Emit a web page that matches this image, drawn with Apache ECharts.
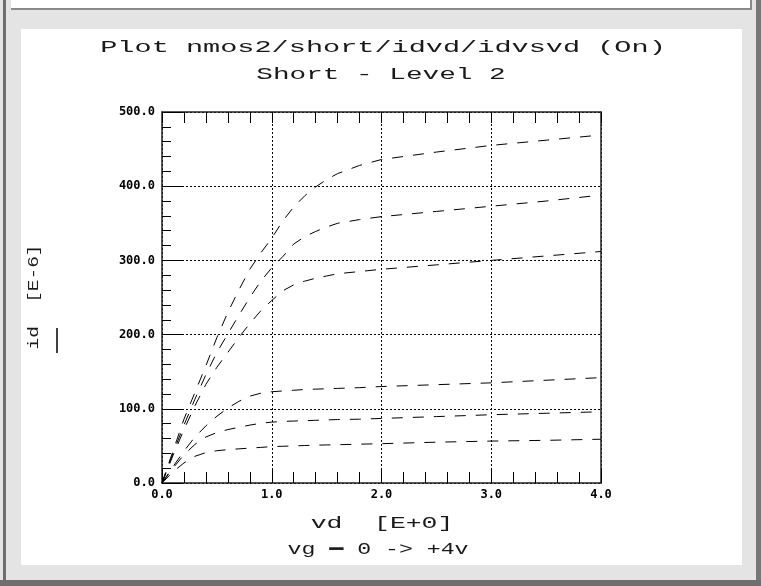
<!DOCTYPE html>
<html>
<head>
<meta charset="utf-8">
<title>nmos2 idvd</title>
<script src="https://cdn.jsdelivr.net/npm/echarts@6/dist/echarts.min.js"></script>
<style>
  html, body { margin: 0; padding: 0; background: #e4e4e4; }
  #chart { width: 761px; height: 586px; }
</style>
</head>
<body>
<div id="chart"></div>
<script>
// drain voltage points (V)
const vd = [0, 0.1, 0.2, 0.3, 0.4, 0.5, 0.6, 0.7, 0.8, 0.9, 1.0, 1.1, 1.2, 1.3, 1.4, 1.5, 1.6, 1.8, 2.0, 2.5, 3.0, 3.5, 4.0]

// drain current, [E-6] A, one array per gate step
const id1 = [0, 43, 86, 122, 158, 196, 230, 260, 288, 310, 330, 353, 372, 387, 399, 409, 417, 428, 436, 446, 455, 462, 469]
const id2 = [0, 40, 78, 113, 146, 176, 201, 226, 250, 272, 290, 305, 322, 332, 339, 345, 350, 355, 359, 366, 373, 380, 388]
const id3 = [0, 37, 72, 104, 133, 156, 176, 196, 215, 232, 246, 259, 267, 272, 276, 279, 282, 285, 288, 294, 300, 306, 312]
const id4 = [0, 22, 43, 62, 77, 90, 101, 110, 117, 121, 123, 124, 125, 126, 126.5, 127, 127.5, 128.5, 130, 132.5, 135, 138.5, 142]
const id5 = [0, 20, 38, 52, 62, 68, 72, 75, 78, 80.5, 82, 83, 83.5, 84, 84.5, 85, 85.5, 86, 87, 89.5, 92, 94, 96]
const id6 = [0, 15, 27, 36, 41, 43.5, 45, 46, 47, 48, 49, 49.5, 50, 50.5, 51, 51.3, 51.6, 52.3, 53, 55, 56.5, 57.5, 59]
const curves = [id1, id2, id3, id4, id5, id6]

const titleText = "Plot nmos2/short/idvd/idvsvd (On)"
const subTitleText = "Short - Level 2"
const xName = "vd  [E+0]"
const yName = "id  [E-6]"
const legendText = "vg ━ 0 -> +4v"

const chart = echarts.init(document.getElementById("chart"))

const mono = '"Liberation Mono", "DejaVu Sans Mono", monospace'
const tickFont = { fontFamily: '"DejaVu Sans Mono", monospace', fontWeight: "bold", fontSize: 12, color: "#000" }
const dotted = { show: true, lineStyle: { color: "#000", width: 1, type: [2, 2] } }
const frameLine = { show: true, onZero: false, lineStyle: { color: "#222", width: 1.5 } }

// plotter-style text: monospace, stretched sideways to get the wide pitch
const stretchedText = (text, x, y, size, sx, rot) => ({
  type: "text",
  x: x,
  y: y,
  scaleX: sx,
  rotation: rot || 0,
  z: 10,
  silent: true,
  style: {
    text: text,
    font: size + "px " + mono,
    fill: "#1a1a1a",
    textAlign: "center",
    textVerticalAlign: "middle",
  },
})

const option = {
  animation: false,
  backgroundColor: "#e4e4e4",
  grid: { left: 162, top: 112, width: 439, height: 371 },
  xAxis: [
    {
      type: "value",
      min: 0,
      max: 4,
      interval: 1,
      position: "bottom",
      axisLine: frameLine,
      axisTick: { show: true, inside: true, length: 15, lineStyle: { color: "#000" } },
      minorTick: { show: true, splitNumber: 5, length: 11, lineStyle: { color: "#000" } },
      splitLine: dotted,
      axisLabel: { ...tickFont, margin: 6, formatter: (v) => v.toFixed(1) },
    },
    {
      type: "value",
      min: 0,
      max: 4,
      interval: 1,
      position: "top",
      axisLine: frameLine,
      axisTick: { show: true, inside: true, length: 11, lineStyle: { color: "#000" } },
      minorTick: { show: true, splitNumber: 5, length: 11, lineStyle: { color: "#000" } },
      splitLine: { show: false },
      axisLabel: { show: false },
    },
  ],
  yAxis: [
    {
      type: "value",
      min: 0,
      max: 500,
      interval: 100,
      position: "left",
      axisLine: frameLine,
      axisTick: { show: true, inside: true, length: 20, lineStyle: { color: "#000" } },
      minorTick: { show: true, splitNumber: 5, length: 9, lineStyle: { color: "#000" } },
      splitLine: dotted,
      axisLabel: { ...tickFont, margin: 7, formatter: (v) => v.toFixed(1) },
    },
    {
      type: "value",
      min: 0,
      max: 500,
      interval: 100,
      position: "right",
      axisLine: frameLine,
      axisTick: { show: false },
      splitLine: { show: false },
      axisLabel: { show: false },
    },
  ],
  series: curves.map((c, k) => ({
    name: "curve" + (k + 1),
    type: "line",
    xAxisIndex: 0,
    yAxisIndex: 0,
    showSymbol: false,
    silent: true,
    data: vd.map((x, i) => [x, c[i]]),
    lineStyle: { color: "#000", width: 1, type: [11, 10] },
  })),
  graphic: [
    // window frame
    { type: "rect", z: -10, silent: true, shape: { x: 11, y: 0, width: 741, height: 9 }, style: { fill: "#fff" } },
    { type: "rect", z: -9, silent: true, shape: { x: 11, y: 8, width: 741, height: 2 }, style: { fill: "#8a8a8a" } },
    { type: "rect", z: -9, silent: true, shape: { x: 750, y: 0, width: 2, height: 10 }, style: { fill: "#8a8a8a" } },
    { type: "rect", z: -10, silent: true, shape: { x: 21, y: 29, width: 721, height: 536 }, style: { fill: "#fff" } },
    { type: "rect", z: -9, silent: true, shape: { x: 3, y: 0, width: 3, height: 586 }, style: { fill: "#6e6e6e" } },
    { type: "rect", z: -9, silent: true, shape: { x: 756, y: 0, width: 5, height: 586 }, style: { fill: "#777" } },
    { type: "rect", z: -9, silent: true, shape: { x: 0, y: 580, width: 761, height: 6 }, style: { fill: "#6e6e6e" } },
    // texts
    stretchedText(titleText, 383, 47, 17, 1.68),
    stretchedText(subTitleText, 381, 74, 17, 1.63),
    stretchedText(xName, 382, 524, 16, 1.65),
    stretchedText(legendText, 378, 550, 16, 1.45),
    stretchedText(yName, 34, 297, 14, 1.39, Math.PI / 2),
    { type: "line", z: 10, silent: true, shape: { x1: 57, y1: 328, x2: 57, y2: 353 }, style: { stroke: "#000", lineWidth: 1.5 } },
  ],
}

chart.setOption(option)
</script>
</body>
</html>
